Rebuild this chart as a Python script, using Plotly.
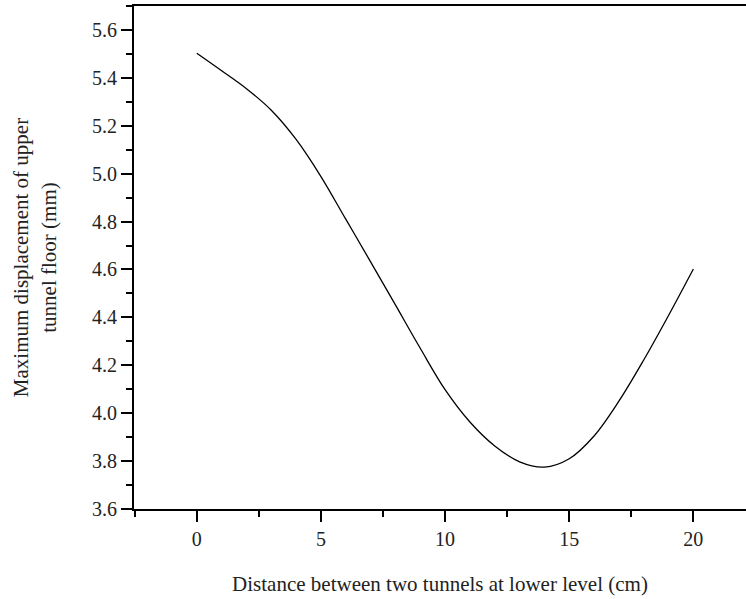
import plotly.graph_objects as go

distance_cm = [0, 1, 2, 3, 4, 5, 6, 7, 8, 9, 10, 11, 12, 13, 14, 15, 16, 17, 18, 19, 20]
max_displacement_mm = [5.503, 5.430, 5.355, 5.265, 5.143, 4.988, 4.810, 4.632, 4.452, 4.271, 4.098,
                       3.963, 3.863, 3.797, 3.775, 3.810, 3.905, 4.050, 4.222, 4.408, 4.602]

x_ticks = [0, 5, 10, 15, 20]
y_ticks = [3.6, 3.8, 4.0, 4.2, 4.4, 4.6, 4.8, 5.0, 5.2, 5.4, 5.6]

FONT = "Liberation Serif, DejaVu Serif, serif"

fig = go.Figure()
fig.add_trace(go.Scatter(
    x=distance_cm, y=max_displacement_mm, mode="lines",
    line=dict(color="black", width=1.3, shape="spline", smoothing=1.0),
    showlegend=False,
))

fig.update_layout(
    width=746, height=599,
    margin=dict(l=134, r=0, t=6, b=90),
    paper_bgcolor="white", plot_bgcolor="white",
    font=dict(family=FONT, size=20, color="#222"),
    xaxis=dict(
        range=[-2.53, 22.12], tickvals=x_ticks, ticktext=[str(v) for v in x_ticks],
        showgrid=False, zeroline=False, showline=True, linecolor="black", linewidth=2,
        mirror=True, ticks="outside", ticklen=11, tickwidth=2, tickcolor="black",
        minor=dict(dtick=2.5, tick0=0, ticks="outside", ticklen=6, tickwidth=2, tickcolor="black"),
        title=dict(text="Distance between two tunnels at lower level (cm)", standoff=27,
                   font=dict(family=FONT, size=21)),
        tickfont=dict(family=FONT, size=20),
    ),
    yaxis=dict(
        range=[3.6, 5.7], tickvals=y_ticks, ticktext=[f"{v:.1f}" for v in y_ticks],
        showgrid=False, zeroline=False, showline=True, linecolor="black", linewidth=2,
        ticks="outside", ticklen=11, tickwidth=2, tickcolor="black",
        minor=dict(dtick=0.1, tick0=3.6, ticks="outside", ticklen=6, tickwidth=2, tickcolor="black"),
        title=dict(text="Maximum displacement of upper<br>tunnel floor (mm)", standoff=30,
                   font=dict(family=FONT, size=21)),
        tickfont=dict(family=FONT, size=20),
    ),
)

fig.write_html("out.html")
